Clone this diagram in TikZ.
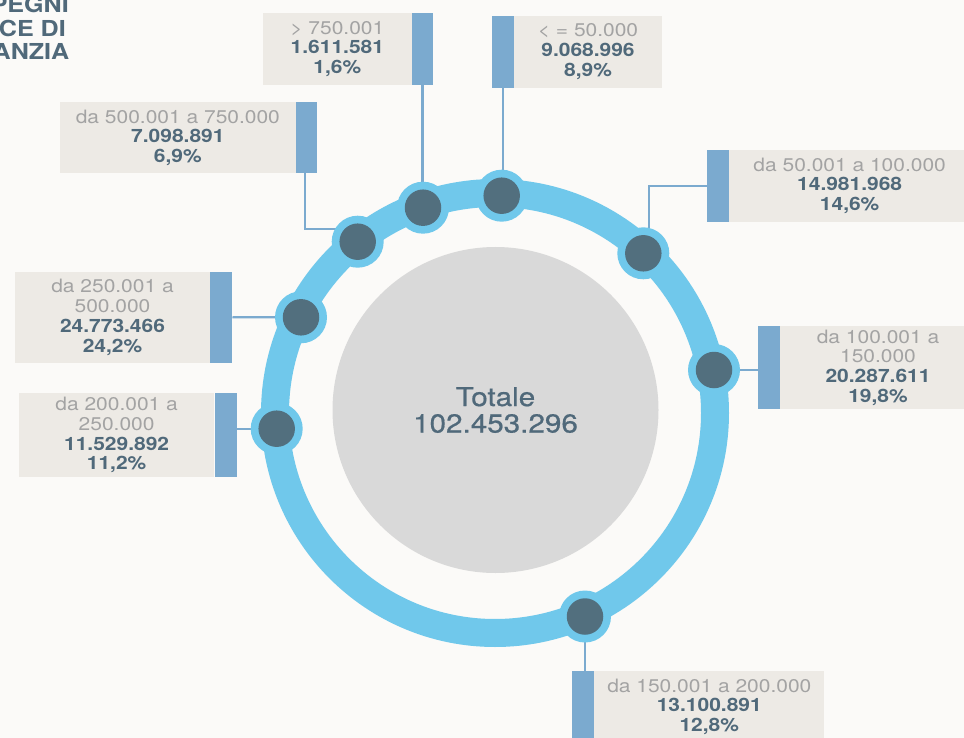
\documentclass[tikz,border=0pt]{standalone}
\usepackage{fontspec}
\setmainfont{TeX Gyre Heros}[FakeStretch=1.14]
\newfontfamily\totfont{TeX Gyre Heros}[FakeStretch=1.14, FakeBold=0.6]
\usetikzlibrary{calc}
\definecolor{bgc}{HTML}{FBFAF8}
\definecolor{ringc}{HTML}{70C8EB}
\definecolor{dotc}{HTML}{526F7E}
\definecolor{diskc}{HTML}{D9D9D9}
\definecolor{boxc}{HTML}{EDEAE5}
\definecolor{barc}{HTML}{7BAACF}
\definecolor{greytxt}{HTML}{A3A3A3}
\definecolor{darktxt}{HTML}{50697A}
\pgfdeclarelayer{bg}
\pgfdeclarelayer{links}
\pgfsetlayers{bg,links,main}
\tikzset{
  lbox/.style={fill=boxc, inner sep=0pt, align=center, text=darktxt,
    font=\fontsize{18.4}{19.8}\selectfont},
  barbox/.style={fill=barc, inner sep=0pt, minimum width=21.8pt},
  halo/.style={circle, fill=ringc, minimum size=52pt, inner sep=0pt},
  dotn/.style={circle, fill=dotc, minimum size=36.5pt, inner sep=0pt},
  link/.style={draw=barc, line width=2.2pt},
  ttl/.style={text=darktxt, font=\fontsize{22}{24}\selectfont\bfseries, inner sep=0pt, anchor=base east}
}
\newcommand{\gl}[1]{{\color{greytxt}#1}}
\newcommand{\bv}[1]{{\bfseries #1}}
\begin{document}
\begin{tikzpicture}[x=1pt,y=-1pt]
\useasboundingbox (0,0) rectangle (964,738);
\begin{pgfonlayer}{bg}
\fill[bgc] (0,0) rectangle (964,738);
\node[circle, fill=diskc, minimum size=326pt, inner sep=0pt, align=center,
  text=darktxt, font=\fontsize{26}{26.5}\totfont] (total) at (495.5,410) {Totale\\102.453.296};
\end{pgfonlayer}

% ring
\node[circle, draw=ringc, line width=28pt, minimum size=440pt, inner sep=0pt] (ring) at (495,413) {};

% dots
\foreach \n/\p in {d1/{(423,207.7)}, d2/{(501.7,195.7)}, d3/{(357.7,241.7)}, d4/{(643.3,253.3)},
                   d5/{(301,317.3)}, d6/{(276.7,428.7)}, d7/{(714,370)}, d8/{(585,616.5)}}{
  \node[halo] (h\n) at \p {};
  \node[dotn] (\n) at \p {};
}

% label boxes
\node[lbox, minimum width=148.7pt, minimum height=72pt] (b1) at (337.35,49) {\gl{> 750.001}\\\bv{1.611.581}\\\bv{1,6\%}};
\node[barbox, minimum height=72pt] (r1) at (422.5,49) {};

\node[lbox, minimum width=148pt, minimum height=71.7pt] (b2) at (588,51.85) {\gl{< = 50.000}\\\bv{9.068.996}\\\bv{8,9\%}};
\node[barbox, minimum height=71.7pt] (r2) at (502.85,51.85) {};

\node[lbox, minimum width=235.7pt, minimum height=71pt] (b3) at (177.85,137.8) {\gl{da 500.001 a 750.000}\\\bv{7.098.891}\\\bv{6,9\%}};
\node[barbox, minimum height=71pt] (r3) at (306.5,137.8) {};

\node[lbox, minimum width=240.7pt, minimum height=71.7pt] (b4) at (849.65,185.85) {\gl{da 50.001 a 100.000}\\\bv{14.981.968}\\\bv{14,6\%}};
\node[barbox, minimum height=71.7pt] (r4) at (718,185.85) {};

\node[lbox, minimum width=195pt, minimum height=90.7pt] (b5) at (112.5,317.35) {\gl{da 250.001 a}\\\gl{500.000}\\\bv{24.773.466}\\\bv{24,2\%}};
\node[barbox, minimum height=90.7pt] (r5) at (221.35,317.35) {};

\node[lbox, minimum width=194.7pt, minimum height=83.4pt] (b6) at (116.65,435) {\gl{da 200.001 a}\\\gl{250.000}\\\bv{11.529.892}\\\bv{11,2\%}};
\node[barbox, minimum height=83.4pt] (r6) at (225.65,435) {};

\node[lbox, minimum width=196pt, minimum height=83.3pt] (b7) at (878,367.65) {\gl{da 100.001 a}\\\gl{150.000}\\\bv{20.287.611}\\\bv{19,8\%}};
\node[barbox, minimum height=83.3pt] (r7) at (769.35,367.65) {};

\node[lbox, minimum width=230pt, minimum height=72pt] (b8) at (709.3,706.7) {\gl{da 150.001 a 200.000}\\\bv{13.100.891}\\\bv{12,8\%}};
\node[barbox, minimum height=72pt] (r8) at (583.3,706.7) {};

% connectors
\begin{pgfonlayer}{links}
\draw[link] (r1.south) -- (r1.south |- d1);
\draw[link] (r2.south) -- (r2.south |- d2);
\draw[link] ([xshift=-1.5pt]r3.south) |- ([yshift=12.7pt]d3.center);
\draw[link] (r4.west) -| ([xshift=6pt]d4.center);
\draw[link] (r5.east) -- (d5.center);
\draw[link] (d6.center -| r6.east) -- (d6.center);
\draw[link] (d7.center) -- (d7.center -| r7.west);
\draw[link] (d8.center) -- (d8.center |- r8.north);
\end{pgfonlayer}

% partial title
\node[ttl] (t1) at (69,12.3) {PEGNI};
\node[ttl] (t2) at (66,36.7) {CE DI};
\node[ttl] (t3) at (69.5,60) {ANZIA};
\end{tikzpicture}
\end{document}
